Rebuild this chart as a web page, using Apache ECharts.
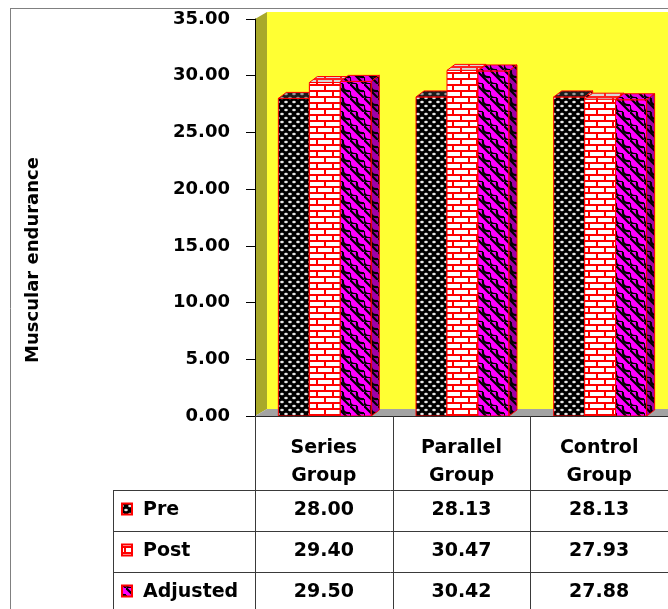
<!DOCTYPE html>
<html>
<head>
<meta charset="utf-8">
<script src="https://cdn.jsdelivr.net/npm/echarts@6/dist/echarts.min.js"></script>
<style>
  html, body { margin: 0; padding: 0; background: #ffffff; }
  #chart { width: 668px; height: 609px; }
</style>
</head>
<body>
<div id="chart"></div>
<script>
// ---- data ----
const categories = ['Series\nGroup', 'Parallel\nGroup', 'Control\nGroup'];
const seriesNames = ['Pre', 'Post', 'Adjusted'];
const preValues = [28.00, 28.13, 28.13];
const postValues = [29.40, 30.47, 27.93];
const adjustedValues = [29.50, 30.42, 27.88];
const yMin = 0;
const yMax = 35;
const yStep = 5;
const yAxisTitle = 'Muscular endurance';

// ---- layout / style constants ----
const GRID = { left: 255, right: 0, top: 19, bottom: 193 };
const BAR_RATIO = 0.225;      // bar width as share of the category band
const DEPTH_X = 8, DEPTH_Y = -6;   // bar depth offset
const WALL_X = 12, WALL_Y = 7;     // wall depth offset
const FONT = 'DejaVu Sans';
const TABLE = { legendLeft: 113, headerBottom: 490, rowHeight: 41 };

// ---- fill patterns ----
function makePattern(w, h, draw) {
  const c = document.createElement('canvas');
  c.width = w; c.height = h;
  draw(c.getContext('2d'), w, h);
  return c;
}
function dots(bg, fg) {
  return makePattern(8, 8, (ctx, w, h) => {
    ctx.fillStyle = bg; ctx.fillRect(0, 0, w, h);
    ctx.fillStyle = fg;
    [[2, 2], [6, 6]].forEach(([x, y]) => {
      ctx.beginPath(); ctx.ellipse(x, y, 1.8, 1.3, 0, 0, Math.PI * 2); ctx.fill();
    });
  });
}
function bricks(bg, fg) {
  return makePattern(16, 12, (ctx, w, h) => {
    ctx.fillStyle = bg; ctx.fillRect(0, 0, w, h);
    ctx.fillStyle = fg;
    ctx.fillRect(0, 0, w, 2);
    ctx.fillRect(0, 6, w, 2);
    ctx.fillRect(4, 0, 2, 6);
    ctx.fillRect(12, 6, 2, 6);
  });
}
function scales(bg, fg) {
  return makePattern(14, 14, (ctx, w, h) => {
    ctx.fillStyle = bg; ctx.fillRect(0, 0, w, h);
    ctx.strokeStyle = fg; ctx.lineWidth = 2.2;
    ctx.beginPath(); ctx.moveTo(-1, -1); ctx.lineTo(15, 15); ctx.stroke();
    ctx.beginPath(); ctx.moveTo(7, 0); ctx.quadraticCurveTo(6, 8, 14, 7); ctx.stroke();
    ctx.beginPath(); ctx.moveTo(0, 7); ctx.quadraticCurveTo(-1, 15, 7, 14); ctx.stroke();
  });
}
const pat = img => ({ image: img, repeat: 'repeat' });

const seriesStyles = [
  { front: pat(dots('#000000', '#e6e6e6')), top: pat(dots('#1c1c1c', '#9a9a9a')), side: pat(dots('#000000', '#bbbbbb')) },
  { front: pat(bricks('#ffffff', '#ff0000')), top: pat(bricks('#d8d8d8', '#ff2020')), side: pat(bricks('#cccccc', '#ff0000')) },
  { front: pat(scales('#ff00ff', '#000000')), top: pat(scales('#e600e6', '#000000')), side: pat(scales('#a000a8', '#000000')) }
];
const seriesValues = [preValues, postValues, adjustedValues];

// ---- 3D box bars ----
function barRenderer(si) {
  const st = seriesStyles[si];
  return function (params, api) {
    const cat = api.value(0);
    const val = api.value(1);
    const base = api.coord([cat, yMin]);
    const head = api.coord([cat, val]);
    const band = api.size([1, 0])[0];
    const bw = band * BAR_RATIO;
    const x0 = base[0] - 1.5 * bw + si * bw + 1;
    const x1 = x0 + bw;
    const yb = base[1], yt = head[1];
    const edge = { stroke: '#ff0000', lineWidth: 1 };
    return {
      type: 'group',
      children: [
        { type: 'polygon', shape: { points: [[x0, yt], [x1, yt], [x1, yb], [x0, yb]] },
          style: Object.assign({ fill: st.front }, edge) },
        { type: 'polygon', shape: { points: [[x0, yt], [x0 + DEPTH_X, yt + DEPTH_Y], [x1 + DEPTH_X, yt + DEPTH_Y], [x1, yt]] },
          style: Object.assign({ fill: st.top }, edge) },
        { type: 'polygon', shape: { points: [[x1, yt], [x1 + DEPTH_X, yt + DEPTH_Y], [x1 + DEPTH_X, yb + DEPTH_Y], [x1, yb]] },
          style: Object.assign({ fill: st.side }, edge) }
      ]
    };
  };
}

// ---- walls and floor ----
function wallRenderer(params) {
  const cs = params.coordSys;
  const x = cs.x, y = cs.y, w = cs.width, h = cs.height;
  return {
    type: 'group',
    children: [
      { type: 'rect', shape: { x: x + WALL_X, y: y - WALL_Y, width: w + 20, height: h },
        style: { fill: '#ffff33' } },
      { type: 'polygon', shape: { points: [[x, y], [x + WALL_X, y - WALL_Y], [x + WALL_X, y + h - WALL_Y], [x, y + h]] },
        style: { fill: '#a8a82a' } },
      { type: 'polygon', shape: { points: [[x, y + h], [x + WALL_X, y + h - WALL_Y], [x + w + WALL_X, y + h - WALL_Y], [x + w, y + h]] },
        style: { fill: '#a3a3a3' } }
    ]
  };
}

const series = [{
  type: 'custom', name: 'walls', z: 1, silent: true,
  renderItem: wallRenderer, data: [[0, 0]], encode: { x: 0, y: 1 }
}];
seriesNames.forEach((name, si) => {
  series.push({
    type: 'custom', name, z: 2,
    renderItem: barRenderer(si),
    encode: { x: 0, y: 1 },
    data: seriesValues[si].map((v, ci) => [ci, v])
  });
});

// ---- data table, title and frame ----
const W = 668, H = 609;
const gridW = W - GRID.left - GRID.right;
const bandW = gridW / categories.length;
const lineStyle = { stroke: '#3a3a3a', lineWidth: 1 };
const graphics = [];
const textStyle = (t, x, y, align, size) => ({
  type: 'text', x, y, z: 10,
  style: { text: t, fill: '#000', font: `bold ${size}px "${FONT}"`, align, verticalAlign: 'middle' }
});

// frame
graphics.push({ type: 'line', shape: { x1: 10, y1: 8.5, x2: W, y2: 8.5 }, style: { stroke: '#808080', lineWidth: 1 } });
graphics.push({ type: 'line', shape: { x1: 10.5, y1: 8, x2: 10.5, y2: H }, style: { stroke: '#808080', lineWidth: 1 } });

// y title
graphics.push({
  type: 'text', x: 33, y: 260, rotation: Math.PI / 2, z: 10,
  style: { text: yAxisTitle, fill: '#000', font: `bold 18px "${FONT}"`, align: 'center', verticalAlign: 'middle' }
});

// table grid lines
const floorY = H - GRID.bottom;
for (let i = 0; i <= categories.length; i++) {
  const x = Math.round(GRID.left + i * bandW) + 0.5;
  graphics.push({ type: 'line', z: 10, shape: { x1: x, y1: floorY, x2: x, y2: H }, style: lineStyle });
}
graphics.push({ type: 'line', z: 10, shape: { x1: TABLE.legendLeft + 0.5, y1: TABLE.headerBottom, x2: TABLE.legendLeft + 0.5, y2: H }, style: lineStyle });
for (let r = 0; r < seriesNames.length; r++) {
  const y = TABLE.headerBottom + r * TABLE.rowHeight + 0.5;
  graphics.push({ type: 'line', z: 10, shape: { x1: TABLE.legendLeft, y1: y, x2: W, y2: y }, style: lineStyle });
}

// table rows: legend key, name, values
seriesNames.forEach((name, si) => {
  const top = TABLE.headerBottom + si * TABLE.rowHeight;
  const cy = top + TABLE.rowHeight / 2;
  graphics.push({
    type: 'rect', z: 10, shape: { x: 122, y: cy - 7, width: 10, height: 11 },
    style: { fill: seriesStyles[si].front, stroke: '#ff0000', lineWidth: 2 }
  });
  graphics.push(textStyle(name, 143, cy, 'left', 19));
  seriesValues[si].forEach((v, ci) => {
    graphics.push(textStyle(v.toFixed(2), GRID.left + (ci + 0.5) * bandW, cy, 'center', 19));
  });
});

const chart = echarts.init(document.getElementById('chart'), null, { renderer: 'canvas' });
chart.setOption({
  animation: false,
  backgroundColor: '#ffffff',
  grid: Object.assign({ containLabel: false, outerBoundsMode: 'none' }, GRID),
  xAxis: {
    type: 'category',
    data: categories,
    z: 5,
    axisLine: { show: true, lineStyle: { color: '#2a2a2a', width: 1 } },
    axisTick: { show: false },
    splitLine: { show: false },
    axisLabel: {
      interval: 0, margin: 18, lineHeight: 28,
      color: '#000', fontFamily: FONT, fontWeight: 'bold', fontSize: 19
    }
  },
  yAxis: {
    type: 'value',
    min: yMin, max: yMax, interval: yStep,
    z: 5,
    axisLine: { show: true, lineStyle: { color: '#000', width: 1 } },
    axisTick: { show: true, length: 9, lineStyle: { color: '#000' } },
    splitLine: { show: false },
    axisLabel: {
      margin: 25, color: '#000', fontFamily: FONT, fontWeight: 'bold', fontSize: 18,
      formatter: v => v.toFixed(2)
    }
  },
  series,
  graphic: graphics
});
</script>
</body>
</html>
